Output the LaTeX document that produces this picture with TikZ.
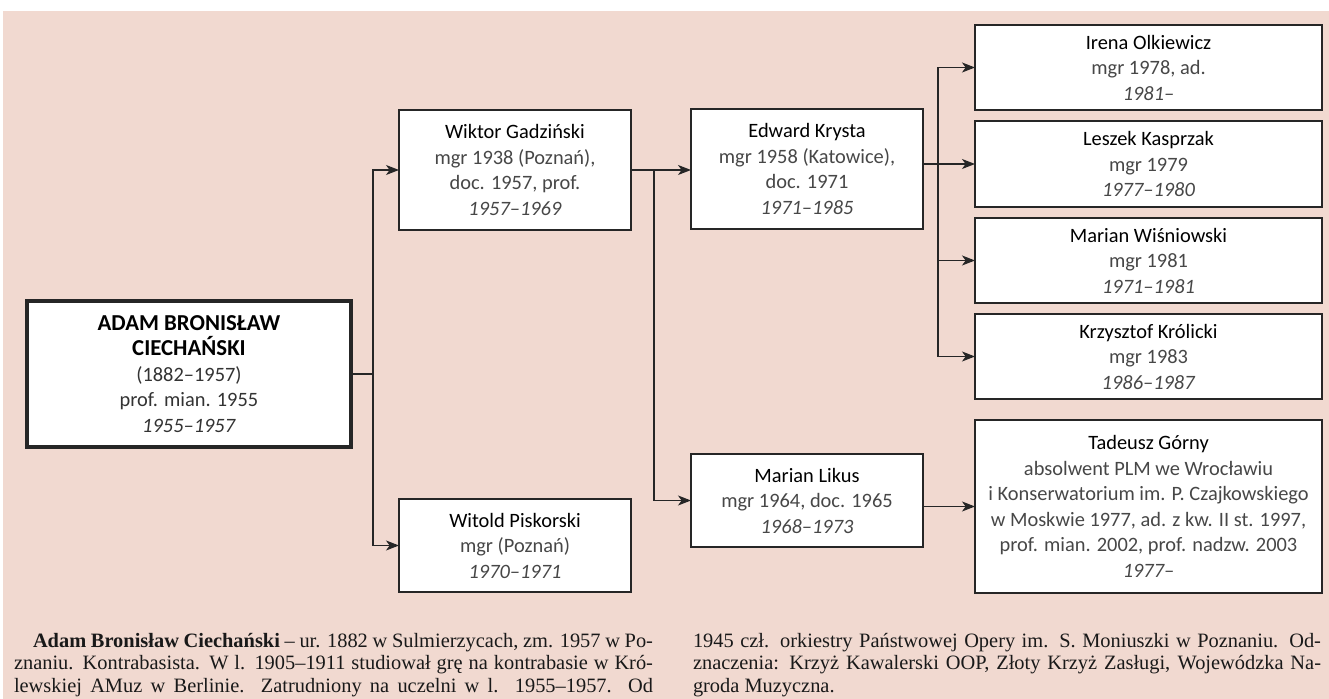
\documentclass[tikz,border=0pt]{standalone}
\usepackage{fontspec}
\setmainfont{Liberation Serif}
\newfontfamily\boxfont{Carlito}
\usetikzlibrary{arrows.meta}

\definecolor{salmon}{RGB}{241,217,208}
\newcommand{\who}[1]{{\color{black}#1}}
\newcommand{\jline}[2]{\makebox[#1][s]{#2}}

\begin{document}
\begin{tikzpicture}[x=0.5pt,y=-0.5pt]
\tikzstyle{every node}=[inner sep=0pt, outer sep=0pt]
\tikzstyle{card}=[rectangle, draw=black!85, line width=0.7pt, fill=white, align=center, text=black!72, font=\boxfont\fontsize{10.2}{12.75}\selectfont]
\tikzstyle{midcard}=[card, minimum width=116pt]
\tikzstyle{widecard}=[card, minimum width=173.5pt]
\tikzstyle{link}=[line width=0.6pt, draw=black!85]
\tikzstyle{arr}=[link, -{Stealth[length=6.5pt,width=5pt,inset=1.8pt]}]
\tikzstyle{column}=[anchor=north west, align=left, text=black!90, font=\fontsize{10.2}{11.4}\selectfont]

\useasboundingbox (0,0) rectangle (1329,699);
\fill[salmon] (3,11) rectangle (1329,699);

% teacher
\node[card, line width=2pt, text=black!80, minimum width=162pt, minimum height=73pt] (adam) at (189,374)
  {\who{\fontsize{11.4}{12.75}\selectfont\textbf{ADAM BRONISŁAW}}\\ \who{\fontsize{11.4}{12.75}\selectfont\textbf{CIECHAŃSKI}}\\ (1882–1957)\\ prof. mian. 1955\\ \textit{1955–1957}};

% students
\node[midcard, minimum height=60pt] (wiktor) at (515,170)
  {\who{Wiktor Gadziński}\\ mgr 1938 (Poznań),\\ doc. 1957, prof.\\ \textit{1957–1969}};
\node[midcard, minimum height=46.5pt] (witold) at (515,545.5)
  {\who{Witold Piskorski}\\ mgr (Poznań)\\ \textit{1970–1971}};
\node[midcard, minimum height=60pt] (edward) at (807,169)
  {\who{Edward Krysta}\\ mgr 1958 (Katowice),\\ doc. 1971\\ \textit{1971–1985}};
\node[midcard, minimum height=46.5pt] (likus) at (807,500.5)
  {\who{Marian Likus}\\ mgr 1964, doc. 1965\\ \textit{1968–1973}};

% next generation
\node[widecard, minimum height=42.5pt] (irena) at (1148.5,67.5)
  {\who{Irena Olkiewicz}\\ mgr 1978, ad.\\ \textit{1981–}};
\node[widecard, minimum height=43pt] (leszek) at (1148.5,164)
  {\who{Leszek Kasprzak}\\ mgr 1979\\ \textit{1977–1980}};
\node[widecard, minimum height=42.5pt] (wisniowski) at (1148.5,260.5)
  {\who{Marian Wiśniowski}\\ mgr 1981\\ \textit{1971–1981}};
\node[widecard, minimum height=42.5pt] (krolicki) at (1148.5,356.5)
  {\who{Krzysztof Królicki}\\ mgr 1983\\ \textit{1986–1987}};
\node[widecard, minimum height=86.5pt] (gorny) at (1148.5,506.5)
  {\who{Tadeusz Górny}\\ absolwent PLM we Wrocławiu\\ i Konserwatorium im. P. Czajkowskiego\\ w Moskwie 1977, ad. z kw. II st. 1997,\\ prof. mian. 2002, prof. nadzw. 2003\\ \textit{1977–}};

% connectors
\coordinate (adamfork) at (373,374);
\coordinate (wiktorfork) at (654,170);
\coordinate (edwardfork) at (938,164);
\draw[link] (adam.east) -- (adamfork);
\draw[arr] (adamfork) |- (wiktor.west);
\draw[arr] (adamfork) |- (witold.west);
\draw[arr] (wiktor.east) -- (edward.west |- wiktor.east);
\draw[arr] (wiktorfork) |- (likus.west);
\draw[link] (edward.east |- edwardfork) -- (edwardfork);
\foreach \s in {irena,leszek,wisniowski,krolicki}
  \draw[arr] (edwardfork) |- (\s.west);
\draw[arr] (likus.east |- gorny.west) -- (gorny.west);

% biography
\node[column] (bioleft) at (14,633)
  {\jline{319.5pt}{\hspace*{9.5pt}\textbf{Adam Bronisław Ciechański} – ur. 1882 w Sulmierzycach, zm. 1957 w Po-}\\
   \jline{319.5pt}{znaniu. Kontrabasista. W l. 1905–1911 studiował grę na kontrabasie w Kró-}\\
   \jline{319.5pt}{lewskiej AMuz w Berlinie. Zatrudniony na uczelni w l. 1955–1957. Od}};
\node[column] (bioright) at (693,633)
  {\jline{314pt}{1945 czł. orkiestry Państwowej Opery im. S. Moniuszki w Poznaniu. Od-}\\
   \jline{314pt}{znaczenia: Krzyż Kawalerski OOP, Złoty Krzyż Zasługi, Wojewódzka Na-}\\
   groda Muzyczna.};
\end{tikzpicture}
\end{document}
